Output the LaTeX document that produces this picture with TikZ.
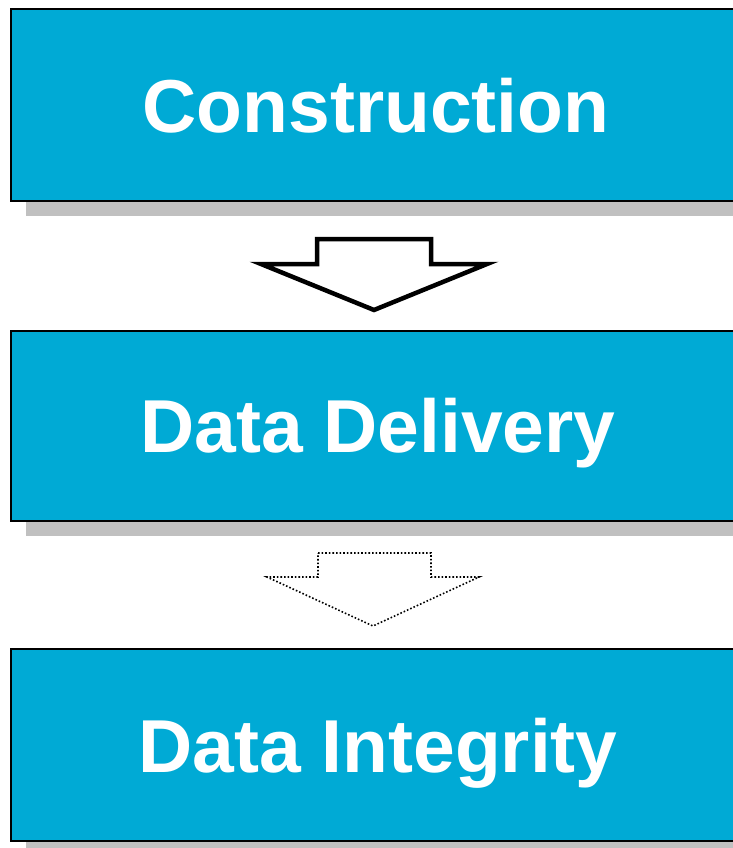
\documentclass[tikz,border=0pt]{standalone}
\usepackage{fontspec}
\setmainfont{Liberation Sans}
\definecolor{boxblue}{HTML}{00AAD5}
\definecolor{shadowgrey}{HTML}{C0C0C0}
\tikzset{
  stagebox/.style={draw=black, line width=2pt, fill=boxblue, minimum width=730pt, anchor=north west, inner sep=0pt},
  stagelabel/.style={anchor=base, inner sep=0pt, text=white, font=\bfseries\fontsize{75}{80}\selectfont},
  stageshadow/.style={fill=shadowgrey, draw=none},
  bigarrow/.style={draw=black, line width=4.5pt, fill=white, line join=miter},
  dotarrow/.style={draw=black, line width=1.6pt, dotted, fill=white},
}
\begin{document}
\begin{tikzpicture}[x=1pt,y=-1pt]
\useasboundingbox (0,0) rectangle (732,848);
% shadows
\fill[stageshadow] (26,24) rectangle (760,216);
\fill[stageshadow] (26,346) rectangle (760,536);
\fill[stageshadow] (26,664) rectangle (760,856);
% boxes
\node[stagebox, minimum height=192pt] (c) at (10,8) {};
\node[stagebox, minimum height=190pt] (d) at (10,330) {};
\node[stagebox, minimum height=192pt] (i) at (10,648) {};
\node[stagelabel] (ct) at (376,132) {Construction};
\node[stagelabel] (dt) at (378,452) {Data Delivery};
\node[stagelabel] (it) at (378,772) {Data Integrity};
% arrows
\draw[bigarrow] (317,239) -- (431,239) -- (431,264) -- (487,264) -- (374,310) -- (261,264) -- (317,264) -- cycle;
\draw[dotarrow] (318,553) -- (431,553) -- (431,577) -- (479,577) -- (373,626) -- (267,577) -- (318,577) -- cycle;
\end{tikzpicture}
\end{document}
